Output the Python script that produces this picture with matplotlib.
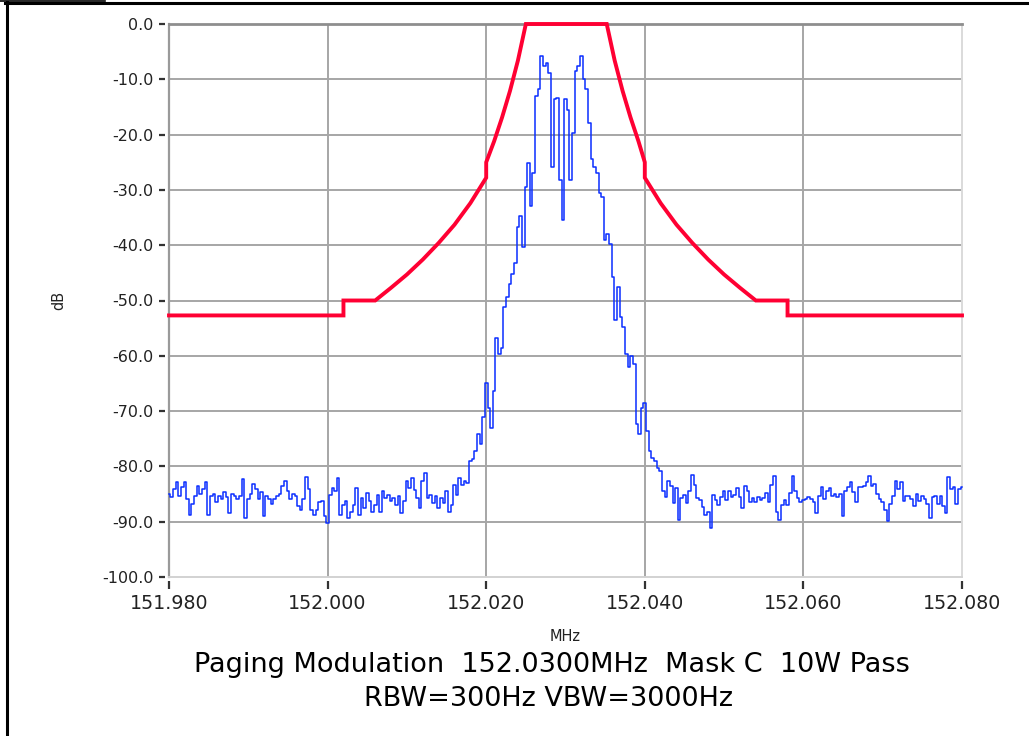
import numpy as np
import matplotlib
matplotlib.use("Agg")
import matplotlib.pyplot as plt
from matplotlib.lines import Line2D

plt.rcParams['font.family'] = ['DejaVu Sans']
plt.rcParams['axes.unicode_minus'] = False

# ---------------- data ----------------
f_start = 151.980
f_stop = 152.080

# measured spectrum (dB), evenly spaced from f_start to f_stop
spec_a = [-85.0, -85.6, -84.1, -82.9, -85.3, -83.8, -82.9, -85.9, -88.7, -86.8,
          -85.3, -83.5, -85.0, -84.1, -82.9, -88.7, -85.3, -85.0, -86.5, -85.3,
          -85.9, -84.7, -85.6, -88.4, -85.0, -85.3, -85.9, -85.3, -82.3, -89.3,
          -85.9, -85.0, -83.2, -84.1, -85.9, -84.7, -89.0, -85.3, -85.9, -86.8,
          -85.9, -85.3, -85.0, -83.5, -82.6, -84.4, -85.9, -85.0, -85.3, -87.2,
          -87.8, -85.9, -82.0, -84.1, -87.8, -88.7, -87.8, -86.5, -86.2, -89.0,
          -90.3]
spec_b = [-85.1, -83.9, -84.5, -82.1, -88.8, -87.0, -86.3, -89.4, -88.2, -87.0,
          -83.9, -88.8, -85.7, -87.6, -84.8, -86.3, -88.2, -87.0, -85.1, -88.2,
          -84.5, -85.7, -85.1, -86.3, -85.7, -87.0, -85.4, -88.5, -86.3, -82.7,
          -83.9, -82.1, -84.2, -85.7, -87.6, -82.7, -81.2, -85.7, -85.1, -86.6,
          -85.4, -87.6, -85.7, -86.6, -84.5, -88.2, -87.0, -83.3, -85.1, -82.1,
          -83.3, -82.7, -83.0, -79.0, -78.7, -77.2, -74.1, -76.0, -71.1, -65.0]
spec_c = [-69.4, -73.0, -66.4, -56.7, -59.7, -58.5, -51.2, -49.4, -47.0, -45.2,
          -43.3, -36.7, -34.8, -40.3, -29.4, -25.2, -33.0, -27.0, -13.0, -11.8,
          -5.8, -7.6, -7.0, -8.8, -25.8, -13.6, -13.3, -28.2, -35.5, -13.6,
          -15.5, -28.2, -19.7, -8.5, -7.6, -5.8, -10.0, -11.8, -17.9, -24.5,
          -25.8, -27.0, -30.6, -31.2, -39.1, -37.9, -39.7, -45.8, -53.6, -47.6,
          -53.0, -54.8, -59.7, -62.1, -60.0, -61.5, -72.4, -74.2, -69.4, -68.5]
spec_d = [-73.6, -77.3, -78.5, -79.1, -80.3, -80.9, -84.5, -85.5, -82.7, -83.6,
          -86.7, -83.9, -89.7, -85.8, -85.2, -86.7, -84.5, -81.5, -83.3, -85.8,
          -86.1, -87.3, -88.8, -88.2, -91.2, -85.2, -86.1, -87.0, -85.5, -84.5,
          -86.1, -84.5, -85.5, -85.2, -83.9, -85.5, -87.6, -83.6, -84.5, -86.4,
          -85.8, -86.4, -85.5, -86.1, -85.8, -84.8, -86.4, -83.3, -81.8, -88.2,
          -89.7, -87.0, -86.1, -87.0, -84.8, -81.8, -84.5, -85.8, -86.4, -86.1]
spec_e = [-85.9, -85.6, -85.9, -86.5, -88.4, -85.3, -83.8, -85.9, -84.4, -83.9,
          -85.3, -85.0, -85.6, -85.0, -89.0, -84.4, -83.8, -82.9, -84.7, -86.5,
          -83.8, -83.8, -83.5, -82.9, -81.7, -83.5, -83.2, -85.0, -85.9, -86.5,
          -87.8, -89.9, -86.8, -85.3, -82.6, -84.1, -82.9, -86.2, -85.3, -85.3,
          -85.9, -87.2, -85.0, -86.2, -85.3, -85.9, -86.8, -89.3, -85.6, -85.3,
          -86.8, -85.3, -87.2, -88.4, -82.0, -84.1, -83.8, -86.8, -84.1, -83.8]
spectrum_db = spec_a + spec_b + spec_c + spec_d + spec_e

# emission mask breakpoints (MHz, dB)
mask_freq = [151.980, 152.0020, 152.0020, 152.0060, 152.008, 152.010, 152.012,
             152.014, 152.016, 152.018, 152.020, 152.020, 152.021, 152.022,
             152.023, 152.024, 152.0250, 152.0352, 152.0362, 152.0372, 152.0382,
             152.0392, 152.0400, 152.0400, 152.042, 152.044, 152.046, 152.048,
             152.050, 152.052, 152.0540, 152.0580, 152.0580, 152.080]
mask_db = [-52.7, -52.7, -50.0, -50.0, -47.7, -45.3, -42.6,
           -39.6, -36.3, -32.4, -27.8, -25.0, -21.2, -16.9,
           -12.1, -6.6, 0.0, 0.0, -6.6, -12.1, -16.9,
           -21.2, -25.0, -27.8, -32.4, -36.3, -39.6, -42.6,
           -45.3, -47.7, -50.0, -50.0, -52.7, -52.7]

x_ticks = [151.980, 152.000, 152.020, 152.040, 152.060, 152.080]
y_ticks = [0, -10, -20, -30, -40, -50, -60, -70, -80, -90, -100]

title_line1 = "Paging Modulation  152.0300MHz  Mask C  10W Pass"
title_line2 = "RBW=300Hz VBW=3000Hz"

# ---------------- figure ----------------
W, H = 1029, 736
fig = plt.figure(figsize=(W / 100, H / 100), dpi=100)
fig.patch.set_facecolor('white')

def fx(px):
    return px / W

def fy(py):
    return 1 - py / H

ax_l, ax_r, ax_t, ax_b = 169, 962, 24, 577
ax = fig.add_axes([fx(ax_l), fy(ax_b), fx(ax_r) - fx(ax_l), fy(ax_t) - fy(ax_b)])
ax.set_xlim(f_start, f_stop)
ax.set_ylim(-100, 0)

grid_c = '#A6A6A6'
for xv in x_ticks[1:-1]:
    ax.axvline(xv, color=grid_c, lw=1.4, zorder=1)
for yv in y_ticks[1:-1]:
    ax.axhline(yv, color=grid_c, lw=1.4, zorder=1)
# edges
ax.axvline(f_start, color='#9A9A9A', lw=1.6, zorder=1, clip_on=False)
ax.axvline(f_stop, color='#DADADA', lw=1.4, zorder=1, clip_on=False)
ax.axhline(0, color='#8E8E8E', lw=2.0, zorder=1, clip_on=False)
ax.axhline(-100, color='#D2D2D2', lw=1.4, zorder=1, clip_on=False)

freqs = np.linspace(f_start, f_stop, len(spectrum_db))
ax.plot(freqs, spectrum_db, color='#0A2EFF', lw=1.1, zorder=3,
        drawstyle='steps-mid', clip_on=False)
ax.plot(mask_freq, mask_db, color='#FF0033', lw=2.8, zorder=4,
        solid_joinstyle='miter', clip_on=False)

for s in ax.spines.values():
    s.set_color('none')
ax.spines['left'].set_position(('outward', 3))
ax.spines['bottom'].set_position(('outward', 3))

ax.set_xticks(x_ticks)
ax.set_xticklabels([f"{v:.3f}" for v in x_ticks])
ax.set_yticks(y_ticks)
ax.set_yticklabels([f"{v:.1f}" for v in y_ticks])
ax.tick_params(axis='y', direction='out', length=4.5, width=1.6, color='#333333',
               pad=3.5, labelsize=11.5, labelcolor='#222222')
ax.tick_params(axis='x', direction='out', length=5.5, width=1.6, color='#333333',
               pad=4, labelsize=13.7, labelcolor='#222222')

ax.set_xlabel('MHz', fontsize=10.5, labelpad=11, color='#222222')
ax.set_ylabel('dB', fontsize=10.5, labelpad=26, color='#222222')

fig.text(fx(552), fy(665), title_line1, ha='center', va='center', fontsize=19.5,
         color='black')
fig.text(fx(549), fy(699), title_line2, ha='center', va='center', fontsize=19.5,
         color='black')

# outer frame lines
fig.add_artist(Line2D([fx(5), fx(1029)], [fy(3), fy(3)], color='black', lw=2.2))
fig.add_artist(Line2D([fx(6.5), fx(6.5)], [fy(2), fy(736)], color='black', lw=2.2))
fig.add_artist(Line2D([fx(0), fx(105)], [fy(0.5), fy(0.5)], color='black', lw=1.2))

fig.savefig('out.png', dpi=100, facecolor='white')
